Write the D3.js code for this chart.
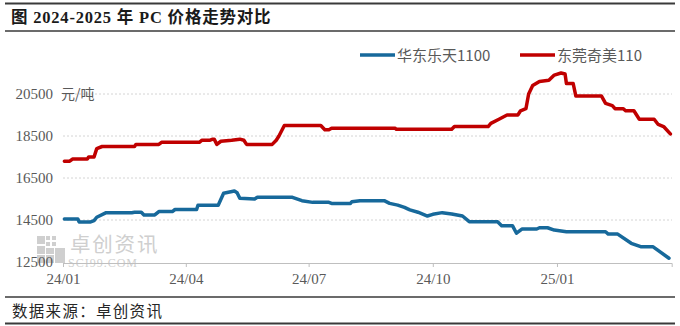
<!DOCTYPE html>
<html>
<head>
<meta charset="utf-8">
<script src="https://cdn.jsdelivr.net/npm/d3@7"></script>
<style>
  body { margin: 0; background: #fff; }
  svg { display: block; }
</style>
</head>
<body>
<svg id="chart" width="680" height="326"></svg>
<script>
// PC price comparison, 2024-2025 (yuan/ton)
var seriesNames = ["华东乐天1100", "东莞奇美110"];
var seriesColors = ["#17699b", "#c00000"];

var blueDates = ["2024-01-02", "2024-01-12", "2024-01-13", "2024-01-21", "2024-01-24", "2024-01-26",
  "2024-02-02", "2024-02-21", "2024-02-23", "2024-02-28", "2024-03-01", "2024-03-09", "2024-03-12",
  "2024-03-22", "2024-03-24", "2024-04-09", "2024-04-10", "2024-04-25", "2024-04-29", "2024-05-07",
  "2024-05-09", "2024-05-11", "2024-05-22", "2024-05-24", "2024-06-19", "2024-06-26", "2024-07-04",
  "2024-07-16", "2024-07-18", "2024-08-01", "2024-08-02", "2024-08-08", "2024-08-26", "2024-08-30",
  "2024-09-05", "2024-09-10", "2024-09-14", "2024-09-20", "2024-09-27", "2024-10-01", "2024-10-08",
  "2024-10-15", "2024-10-23", "2024-10-28", "2024-11-18", "2024-11-21", "2024-11-29", "2024-12-02",
  "2024-12-06", "2024-12-17", "2024-12-19", "2024-12-25", "2024-12-30", "2025-01-08", "2025-02-06",
  "2025-02-08", "2025-02-15", "2025-02-25", "2025-03-04", "2025-03-13", "2025-03-25"];
var blueValues = [14550, 14550, 14400, 14400, 14470, 14630,
  14850, 14850, 14870, 14870, 14740, 14740, 14900,
  14900, 15000, 15000, 15200, 15200, 15770, 15880,
  15800, 15530, 15500, 15580, 15580, 15420, 15340,
  15340, 15290, 15290, 15370, 15420, 15420, 15290,
  15210, 15100, 14980, 14870, 14690, 14770, 14850,
  14790, 14690, 14420, 14420, 14230, 14230, 13870,
  14070, 14070, 14130, 14130, 14020, 13940, 13940,
  13830, 13830, 13390, 13230, 13230, 12680];

var redDates = ["2024-01-02", "2024-01-06", "2024-01-08", "2024-01-19", "2024-01-20", "2024-01-24",
  "2024-01-26", "2024-01-30", "2024-02-23", "2024-02-24", "2024-03-12", "2024-03-14", "2024-04-11",
  "2024-04-13", "2024-04-19", "2024-04-21", "2024-04-22", "2024-04-24", "2024-04-27", "2024-05-05",
  "2024-05-11", "2024-05-14", "2024-05-16", "2024-06-04", "2024-06-07", "2024-06-09", "2024-06-13",
  "2024-07-10", "2024-07-13", "2024-07-16", "2024-07-18", "2024-09-03", "2024-09-04", "2024-10-15",
  "2024-10-17", "2024-11-11", "2024-11-13", "2024-11-19", "2024-11-25", "2024-12-03", "2024-12-05",
  "2024-12-09", "2024-12-11", "2024-12-14", "2024-12-19", "2024-12-26", "2024-12-30", "2025-01-04",
  "2025-01-07", "2025-01-08", "2025-01-13", "2025-01-15", "2025-02-03", "2025-02-06", "2025-02-11",
  "2025-02-13", "2025-02-19", "2025-02-21", "2025-02-27", "2025-03-03", "2025-03-14", "2025-03-17",
  "2025-03-21", "2025-03-26"];
var redValues = [17300, 17300, 17400, 17400, 17500, 17500,
  17900, 18000, 18000, 18100, 18100, 18200, 18200,
  18300, 18300, 18350, 18350, 18100, 18250, 18300,
  18350, 18300, 18100, 18100, 18300, 18500, 19000,
  19000, 18800, 18800, 18870, 18870, 18820, 18820,
  18950, 18950, 19100, 19300, 19500, 19500, 19700,
  19800, 20500, 20900, 21100, 21150, 21400, 21500,
  21450, 21000, 21000, 20400, 20400, 20050, 19950,
  19800, 19800, 19700, 19700, 19300, 19300, 19050,
  18950, 18600];

var yTicks = [12500, 14500, 16500, 18500, 20500];
var xTicks = ["2024-01-01", "2024-04-01", "2024-07-01", "2024-10-01", "2025-01-01"];

var svg = d3.select("#chart"),
  parse = d3.timeParse("%Y-%m-%d"),
  serif = "'Liberation Serif', 'Noto Sans CJK SC', serif",
  cjk = "'Noto Sans CJK SC', sans-serif",
  grey = "#595959";

var x = d3.scaleTime()
  .domain([parse("2024-01-01"), parse("2025-03-27")])
  .range([63, 671.7]);
var y = d3.scaleLinear()
  .domain([12500, 20500])
  .range([262, 94]);

// frame lines for title and source
[3.5, 31, 297, 323.5].forEach(function (yy, i) {
  svg.append("line")
    .attr("x1", 5).attr("x2", 675)
    .attr("y1", yy).attr("y2", yy)
    .attr("stroke", "#3a3a3a")
    .attr("stroke-width", i === 0 || i === 3 ? 2 : 1.5);
});

svg.append("text")
  .attr("x", 11).attr("y", 23)
  .attr("font-family", serif)
  .attr("font-size", 16.5)
  .attr("font-weight", "bold")
  .attr("letter-spacing", 0.8)
  .attr("fill", "#1a1a1a")
  .text("图  2024-2025 年 PC 价格走势对比");

svg.append("text")
  .attr("x", 12).attr("y", 317)
  .attr("font-family", cjk)
  .attr("font-size", 15.5)
  .attr("letter-spacing", 1.3)
  .attr("fill", "#262626")
  .text("数据来源：卓创资讯");

// watermark
var wm = svg.append("g").attr("fill", "#cfcfcf");
[[37, 236, 8, 8], [46, 236, 4, 4], [46, 242, 4, 4], [52, 236, 4, 4], [52, 242, 4, 4],
  [37, 246, 8, 8], [46, 248, 8, 6], [37, 255, 8, 8], [46, 255, 8, 8], [55, 248, 10, 15]]
  .forEach(function (r) {
    wm.append("rect").attr("x", r[0]).attr("y", r[1]).attr("width", r[2]).attr("height", r[3]);
  });
wm.append("text")
  .attr("x", 70).attr("y", 252)
  .attr("font-family", cjk)
  .attr("font-size", 20.5)
  .attr("letter-spacing", 1.8)
  .text("卓创资讯");
wm.append("text")
  .attr("x", 68).attr("y", 267)
  .attr("font-family", serif)
  .attr("font-size", 12)
  .attr("letter-spacing", 1)
  .text("SCI99.COM");

// grid
svg.append("g")
  .selectAll("line")
  .data(yTicks.slice(1))
  .join("line")
  .attr("x1", 63).attr("x2", 672)
  .attr("y1", function (d) { return y(d); })
  .attr("y2", function (d) { return y(d); })
  .attr("stroke", "#d4d4d4")
  .attr("stroke-dasharray", "2,2");

// y labels
svg.append("g")
  .selectAll("text")
  .data(yTicks)
  .join("text")
  .attr("x", 53)
  .attr("y", function (d) { return y(d); })
  .attr("dy", "0.35em")
  .attr("text-anchor", "end")
  .attr("font-family", serif)
  .attr("font-size", 15)
  .attr("fill", grey)
  .text(function (d) { return d; });

svg.append("text")
  .attr("x", 61).attr("y", 99)
  .attr("font-family", cjk)
  .attr("font-size", 14)
  .attr("fill", grey)
  .text("元/吨");

// x axis
var xAxis = svg.append("g")
  .attr("transform", "translate(0," + 263 + ")")
  .call(d3.axisBottom(x)
    .tickValues(xTicks.map(parse))
    .tickFormat(d3.timeFormat("%y/%m"))
    .tickSizeOuter(0)
    .tickSize(4)
    .tickPadding(6));
xAxis.select(".domain").attr("stroke", "#bfbfbf");
xAxis.selectAll(".tick line").attr("stroke", "#bfbfbf");
xAxis.selectAll(".tick text")
  .attr("font-family", serif)
  .attr("font-size", 15)
  .attr("fill", grey);

// lines
var line = d3.line()
  .x(function (d) { return x(d[0]); })
  .y(function (d) { return y(d[1]); });

[[blueDates, blueValues], [redDates, redValues]].forEach(function (s, i) {
  var pts = s[0].map(function (d, j) { return [parse(d), s[1][j]]; });
  svg.append("path")
    .datum(pts)
    .attr("d", line)
    .attr("fill", "none")
    .attr("stroke", seriesColors[i])
    .attr("stroke-width", 3.5)
    .attr("stroke-linejoin", "round")
    .attr("stroke-linecap", "round");
});

// legend
var legendX = [360, 520];
seriesNames.forEach(function (name, i) {
  svg.append("line")
    .attr("x1", legendX[i]).attr("x2", legendX[i] + 35)
    .attr("y1", 55).attr("y2", 55)
    .attr("stroke", seriesColors[i])
    .attr("stroke-width", 3.5);
  svg.append("text")
    .attr("x", legendX[i] + 37).attr("y", 60.5)
    .attr("font-family", cjk)
    .attr("font-size", 15)
    .attr("fill", grey)
    .text(name);
});
</script>
</body>
</html>
